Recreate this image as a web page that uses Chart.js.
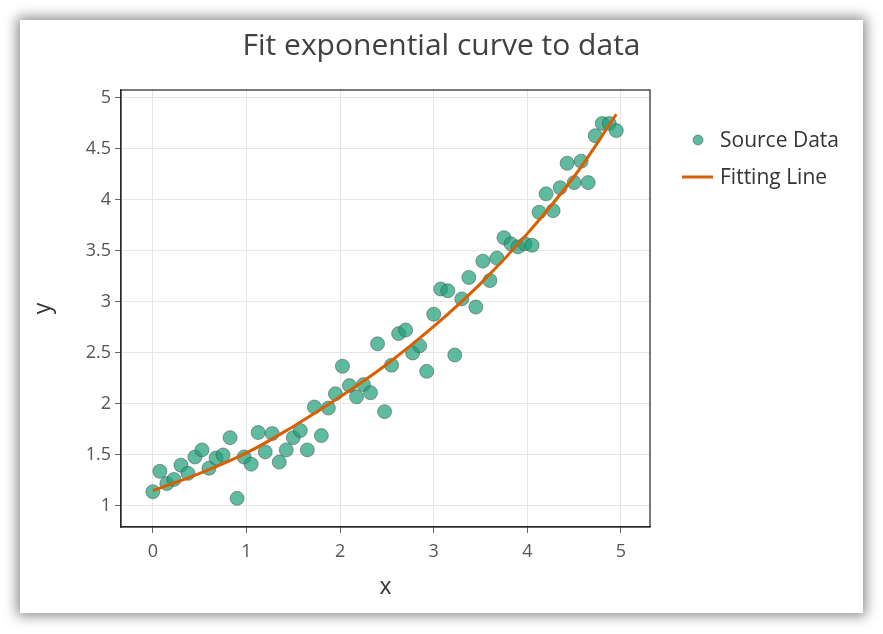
<!DOCTYPE html>
<html>
<head>
<meta charset="utf-8">
<script src="https://cdn.jsdelivr.net/npm/chart.js@4/dist/chart.umd.min.js"></script>
<style>
  html, body { margin: 0; padding: 0; background: #fff; }
  #card {
    position: absolute; left: 20px; top: 20px; width: 843px; height: 593px;
    background: #fff; box-shadow: 0 0 12px 3px rgba(0,0,0,0.45);
  }
</style>
</head>
<body>
<div id="card"><canvas id="fitChart" width="843" height="593"></canvas></div>
<script>
// source data
const xData = [0, 0.075, 0.15, 0.225, 0.3, 0.375, 0.45, 0.525, 0.6, 0.675,
  0.75, 0.825, 0.9, 0.975, 1.05, 1.125, 1.2, 1.275, 1.35, 1.425,
  1.5, 1.575, 1.65, 1.725, 1.8, 1.875, 1.95, 2.025, 2.1, 2.175,
  2.25, 2.325, 2.4, 2.475, 2.55, 2.625, 2.7, 2.775, 2.85, 2.925,
  3, 3.075, 3.15, 3.225, 3.3, 3.375, 3.45, 3.525, 3.6, 3.675,
  3.75, 3.825, 3.9, 3.975, 4.05, 4.125, 4.2, 4.275, 4.35, 4.425,
  4.5, 4.575, 4.65, 4.725, 4.8, 4.875, 4.95];
const yData = [1.14, 1.34, 1.22, 1.26, 1.40, 1.32, 1.48, 1.55, 1.37, 1.47,
  1.50, 1.67, 1.075, 1.48, 1.41, 1.72, 1.53, 1.71, 1.43, 1.55,
  1.67, 1.74, 1.55, 1.97, 1.69, 1.96, 2.10, 2.37, 2.18, 2.07,
  2.19, 2.11, 2.59, 1.925, 2.38, 2.69, 2.725, 2.50, 2.57, 2.32,
  2.88, 3.127, 3.11, 2.48, 3.03, 3.24, 2.95, 3.40, 3.21, 3.43,
  3.63, 3.57, 3.54, 3.57, 3.556, 3.88, 4.06, 3.895, 4.12, 4.36,
  4.17, 4.38, 4.17, 4.63, 4.75, 4.75, 4.68];

// fitted curve
const fitX = [0, 0.5, 1, 1.5, 2, 2.5, 3, 3.5, 4, 4.5, 4.95];
const fitY = [1.15, 1.32, 1.52, 1.78, 2.07, 2.39, 2.76, 3.18, 3.67, 4.23, 4.84];

const xTicks = [0, 1, 2, 3, 4, 5];
const yTicks = [1, 1.5, 2, 2.5, 3, 3.5, 4, 4.5, 5];

const pointFill = 'rgba(27,158,119,0.7)';
const pointEdge = 'rgba(70,70,70,0.5)';
const lineColor = '#d95f02';

Chart.defaults.font.family = "'Open Sans', sans-serif";

// box round the plot area
const frame = {
  id: 'frame',
  afterDatasetsDraw(chart) {
    const {ctx, chartArea: a} = chart;
    ctx.save();
    ctx.strokeStyle = '#222';
    ctx.lineWidth = 1.2;
    ctx.strokeRect(a.left, a.top, a.right - a.left, a.bottom - a.top);
    ctx.restore();
  }
};

// legend to the right of the plot
const sideLegend = {
  id: 'sideLegend',
  afterDraw(chart) {
    const {ctx, chartArea: a} = chart;
    const sets = chart.data.datasets;
    ctx.save();
    ctx.font = "21px 'Open Sans', sans-serif";
    ctx.textBaseline = 'middle';
    sets.forEach((ds, i) => {
      const y = a.top + 50 + i * 37;
      if (ds.type === 'scatter') {
        ctx.beginPath();
        ctx.arc(a.right + 48, y, 5, 0, Math.PI * 2);
        ctx.fillStyle = ds.backgroundColor;
        ctx.fill();
        ctx.strokeStyle = ds.borderColor;
        ctx.lineWidth = 1;
        ctx.stroke();
      } else {
        ctx.beginPath();
        ctx.moveTo(a.right + 32, y);
        ctx.lineTo(a.right + 63, y);
        ctx.strokeStyle = ds.borderColor;
        ctx.lineWidth = 3;
        ctx.stroke();
      }
      ctx.fillStyle = '#333';
      ctx.fillText(ds.label, a.right + 70, y + 1);
    });
    ctx.restore();
  }
};

const ctx = document.getElementById('fitChart').getContext('2d');
new Chart(ctx, {
  data: {
    datasets: [{
      type: 'scatter',
      label: 'Source Data',
      data: xData.map((x, i) => ({x: x, y: yData[i]})),
      backgroundColor: pointFill,
      borderColor: pointEdge,
      borderWidth: 1,
      pointRadius: 7,
      order: 1
    }, {
      type: 'line',
      label: 'Fitting Line',
      data: fitX.map((x, i) => ({x: x, y: fitY[i]})),
      borderColor: lineColor,
      borderWidth: 3,
      pointRadius: 0,
      tension: 0.4,
      fill: false,
      order: 0
    }]
  },
  options: {
    responsive: false,
    animation: false,
    layout: { padding: 0 },
    plugins: {
      legend: { display: false },
      tooltip: { enabled: false },
      title: {
        display: true,
        text: 'Fit exponential curve to data',
        color: '#404040',
        font: { size: 30, weight: 'normal' },
        padding: { top: 8, bottom: 26 }
      }
    },
    scales: {
      x: {
        type: 'linear',
        min: -0.34,
        max: 5.31,
        afterFit(s) { s.height = 86; },
        afterBuildTicks(s) { s.ticks = xTicks.map(v => ({value: v})); },
        ticks: { color: '#555', font: { size: 18 }, padding: 8, callback: v => String(v) },
        grid: { color: '#e6e6e6', tickColor: '#666', tickLength: 6 },
        border: { color: '#333', width: 1.2 },
        title: { display: true, text: 'x', color: '#333', font: { size: 23 }, padding: { bottom: 12 } }
      },
      y: {
        type: 'linear',
        min: 0.794,
        max: 5.078,
        afterFit(s) { s.width = 101; },
        afterBuildTicks(s) { s.ticks = yTicks.map(v => ({value: v})); },
        ticks: { color: '#555', font: { size: 18 }, padding: 4, callback: v => String(v) },
        grid: { color: '#e6e6e6', tickColor: '#666', tickLength: 6 },
        border: { color: '#333', width: 1.2 },
        title: { display: true, text: 'y', color: '#333', font: { size: 23 }, padding: { top: 10 } }
      },
      // empty right-hand strip that holds the legend
      side: {
        type: 'linear',
        position: 'right',
        afterFit(s) { s.width = 213; },
        ticks: { display: false },
        grid: { display: false },
        border: { display: false }
      }
    }
  },
  plugins: [frame, sideLegend]
});
</script>
</body>
</html>
